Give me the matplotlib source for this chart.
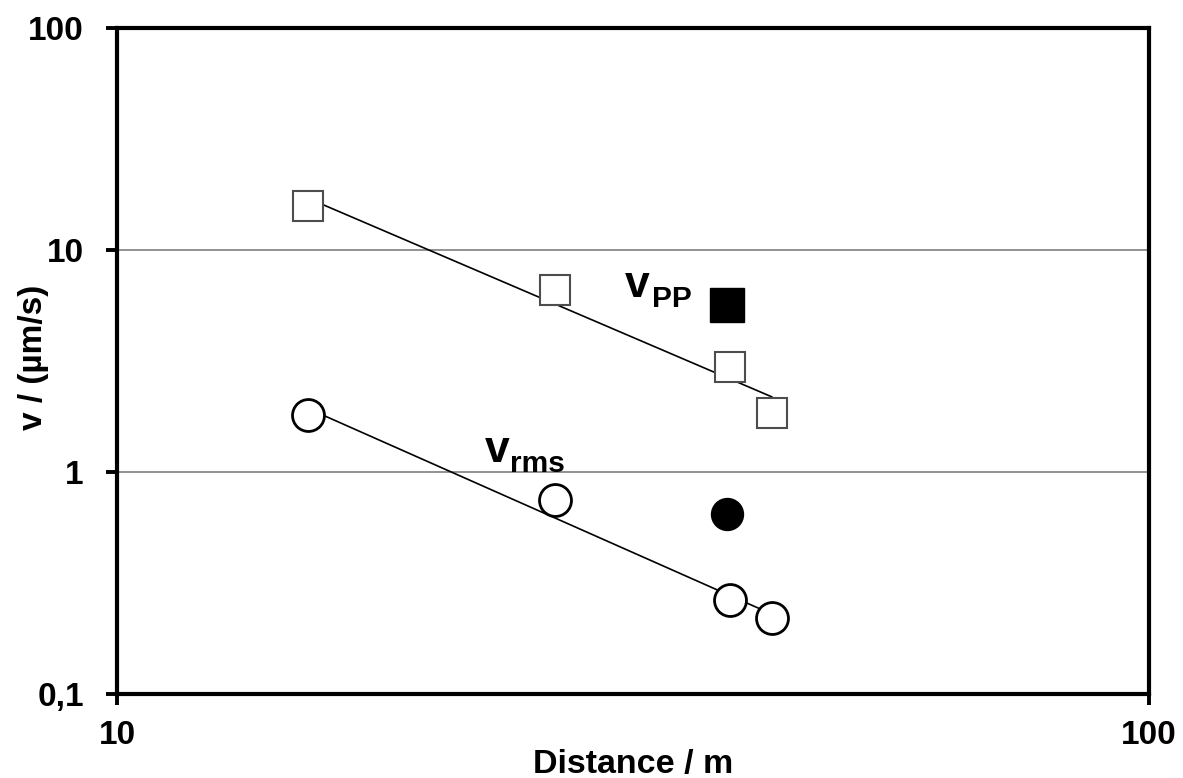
import numpy as np
import matplotlib
matplotlib.use("Agg")
import matplotlib.pyplot as plt
from matplotlib.ticker import FixedLocator, NullLocator

plt.rcParams['font.family'] = ['Liberation Sans', 'DejaVu Sans']

# measured points (distance in m, velocity in um/s)
dist = [15.3, 26.6, 39.3, 43.1]
v_pp = [15.8, 6.6, 2.97, 1.84]
v_rms = [1.81, 0.75, 0.265, 0.22]

# separate (filled) measurement
dist_filled = [39.0]
v_pp_filled = [5.65]
v_rms_filled = [0.647]

# fitted trend lines, end points
fit_dist = [15.36, 43.1]
fit_pp = [17.0, 2.18]
fit_rms = [1.92, 0.229]

y_ticks = [0.1, 1, 10, 100]
y_tick_labels = ["0,1", "1", "10", "100"]
x_ticks = [10, 100]
x_tick_labels = ["10", "100"]

fig = plt.figure(figsize=(11.83, 7.78), dpi=100)
ax = fig.add_axes([0.0989, 0.108, 0.8724, 0.856])
ax.set_xscale("log")
ax.set_yscale("log")
ax.set_xlim(10, 100)
ax.set_ylim(0.1, 100)

for yg in [1, 10]:
    ax.axhline(yg, color="#7f7f7f", lw=1.2, zorder=1)

ax.plot(fit_dist, fit_pp, color="black", lw=1.2, zorder=2)
ax.plot(fit_dist, fit_rms, color="black", lw=1.2, zorder=2)

ax.plot(dist, v_pp, ls="none", marker="s", ms=22, mfc="white", mec="#4d4d4d", mew=1.5, zorder=3)
ax.plot(dist, v_rms, ls="none", marker="o", ms=23, mfc="white", mec="black", mew=2, zorder=3)
ax.plot(dist_filled, v_pp_filled, ls="none", marker="s", ms=24, mfc="black", mec="black", mew=1, zorder=3)
ax.plot(dist_filled, v_rms_filled, ls="none", marker="o", ms=23, mfc="black", mec="black", mew=1, zorder=3)

# series labels
ax.text(0.492, 0.596, "v", transform=ax.transAxes, fontsize=32, fontweight="bold", ha="left", va="baseline")
ax.text(0.518, 0.581, "PP", transform=ax.transAxes, fontsize=21.5, fontweight="bold", ha="left", va="baseline")
ax.text(0.356, 0.348, "v", transform=ax.transAxes, fontsize=32, fontweight="bold", ha="left", va="baseline")
ax.text(0.381, 0.333, "rms", transform=ax.transAxes, fontsize=21.5, fontweight="bold", ha="left", va="baseline")

ax.xaxis.set_major_locator(FixedLocator(x_ticks))
ax.xaxis.set_minor_locator(NullLocator())
ax.yaxis.set_major_locator(FixedLocator(y_ticks))
ax.yaxis.set_minor_locator(NullLocator())
ax.set_xticklabels(x_tick_labels)
ax.set_yticklabels(y_tick_labels)
ax.tick_params(axis="both", which="major", direction="out", length=8, width=2.8,
               labelsize=24)
ax.tick_params(axis="x", pad=11)
ax.tick_params(axis="y", pad=16)
for lab in ax.get_xticklabels() + ax.get_yticklabels():
    lab.set_fontweight("bold")

for sp in ax.spines.values():
    sp.set_linewidth(3)
    sp.set_color("black")

ax.set_xlabel("Distance / m", fontsize=24.5, fontweight="bold", va="baseline")
ax.xaxis.set_label_coords(0.5, -0.119)
ax.set_ylabel("v / (µm/s)", fontsize=24, fontweight="bold")
ax.yaxis.set_label_coords(-0.066, 0.505)

fig.savefig("out.png", dpi=100)
